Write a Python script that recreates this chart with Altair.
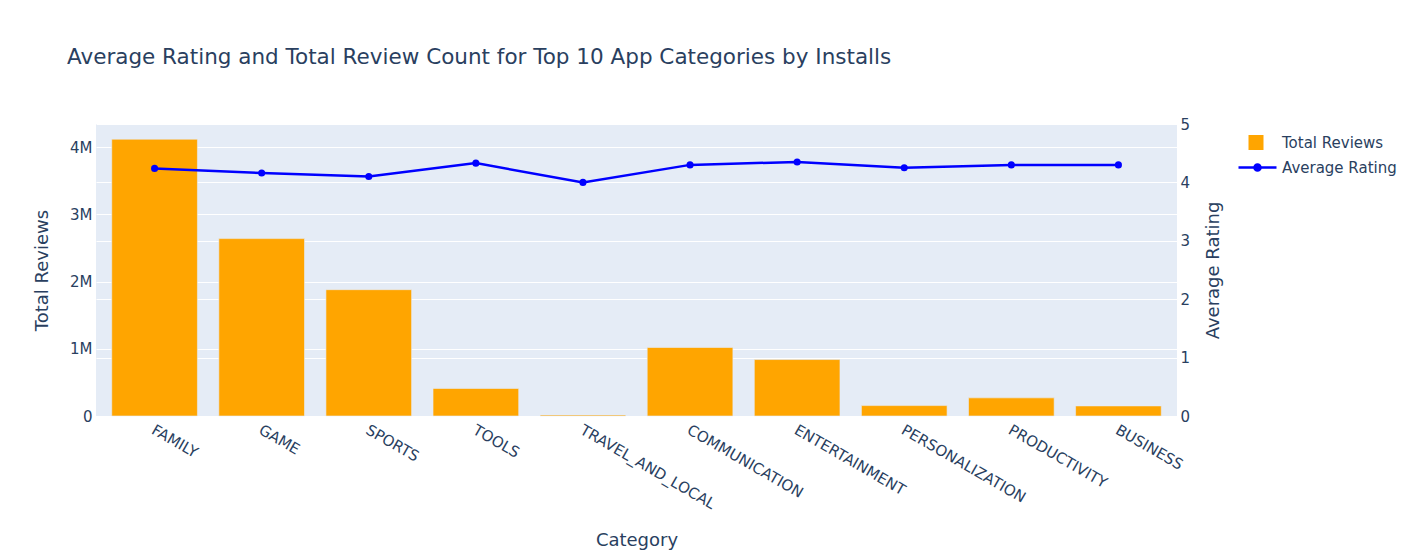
import altair as alt
import pandas as pd

categories = ["FAMILY", "GAME", "SPORTS", "TOOLS", "TRAVEL_AND_LOCAL",
              "COMMUNICATION", "ENTERTAINMENT", "PERSONALIZATION",
              "PRODUCTIVITY", "BUSINESS"]
total_reviews = [4120000, 2640000, 1880000, 410000, 15000,
                 1020000, 840000, 155000, 270000, 150000]
avg_rating = [4.24, 4.16, 4.10, 4.33, 4.00, 4.30, 4.35, 4.25, 4.30, 4.30]
left_ticks = [0, 1000000, 2000000, 3000000, 4000000]
right_ticks = [0, 1, 2, 3, 4, 5]

df = pd.DataFrame({
    "Category": categories,
    "Total Reviews": total_reviews,
    "Average Rating": avg_rating,
    "s1": ["Total Reviews"] * len(categories),
    "s2": ["Average Rating"] * len(categories),
})

FONT = "DejaVu Sans"
TXT = "#2a3f5f"
W, H = 1081, 292

x_enc = alt.X(
    "Category:N", sort=categories,
    scale=alt.Scale(paddingInner=0.2, paddingOuter=0.147),
    axis=alt.Axis(title="Category", labelAngle=30, labelAlign="left",
                  labelBaseline="top", labelPadding=6, labelOffset=2,
                  ticks=False, tickSize=0,
                  domain=False, grid=False, titleX=W / 2, titleY=124,
                  titleAlign="center", titleBaseline="middle"),
)

line_symbol = ("M-1,0L1,0M0.16,0A0.16,0.16,0,1,1,-0.16,0"
               "A0.16,0.16,0,1,1,0.16,0Z")

bars = alt.Chart(df).mark_bar(stroke="#E5ECF6", strokeWidth=0.6).encode(
    x=x_enc,
    y=alt.Y("Total Reviews:Q",
            scale=alt.Scale(domain=[0, 4346000], nice=False, zero=True),
            axis=alt.Axis(values=left_ticks, format="~s",
                          labelExpr="datum.value == 0 ? '0' : datum.label",
                          title="Total Reviews",
                          orient="left", ticks=False, tickSize=0, domain=False,
                          labelPadding=4, grid=True, gridColor="white",
                          gridWidth=1, titleX=-54, titleY=H / 2,
                          titleAngle=270, titleAlign="center",
                          titleBaseline="middle")),
    fill=alt.Fill("s1:N",
                  scale=alt.Scale(domain=["Total Reviews"], range=["#FFA500"]),
                  legend=alt.Legend(title=None, orient="none", legendX=1152.5,
                                    legendY=11, padding=0, symbolType="square",
                                    symbolSize=225, symbolStrokeWidth=0,
                                    labelOffset=18.5)),
)

line = alt.Chart(df).mark_line(
    strokeWidth=2.5,
    point=alt.OverlayMarkDef(filled=True, size=50, color="blue", opacity=1,
                             strokeWidth=0),
).encode(
    x=x_enc,
    y=alt.Y("Average Rating:Q",
            scale=alt.Scale(domain=[0, 5], nice=False),
            axis=alt.Axis(values=right_ticks, title="Average Rating",
                          orient="right", ticks=False, tickSize=0, domain=False,
                          labelPadding=3, grid=True, gridColor="white",
                          gridWidth=1, titleX=36, titleY=H / 2, titleAngle=270,
                          titleAlign="center", titleBaseline="middle")),
    stroke=alt.Stroke("s2:N",
                      scale=alt.Scale(domain=["Average Rating"], range=["blue"]),
                      legend=alt.Legend(title=None, orient="none", legendX=1141,
                                        legendY=23, padding=0,
                                        symbolType=line_symbol, symbolSize=1444,
                                        symbolStrokeWidth=2.5,
                                        symbolFillColor="blue",
                                        symbolStrokeColor="blue",
                                        labelOffset=4)),
)

chart = alt.layer(bars, line).resolve_scale(
    y="independent", fill="independent", stroke="independent"
).properties(
    width=W, height=H,
    autosize=alt.AutoSizeParams(type="none"),
    padding={"left": 96, "top": 124, "right": 237, "bottom": 140},
    title=alt.Title(
        "Average Rating and Total Review Count for Top 10 App Categories by Installs",
        anchor="start", frame="group", dx=-29, offset=32, baseline="alphabetic",
        fontSize=21.5, font=FONT, color=TXT, fontWeight="normal"),
).configure_view(
    fill="#E5ECF6", strokeWidth=0
).configure_axis(
    labelFont=FONT, labelFontSize=15, labelColor=TXT,
    titleFont=FONT, titleFontSize=18, titleColor=TXT, titleFontWeight="normal",
).configure_legend(
    labelFont=FONT, labelFontSize=15, labelColor=TXT,
)

chart.save("out.html", embed_options={"renderer": "svg", "actions": False})
